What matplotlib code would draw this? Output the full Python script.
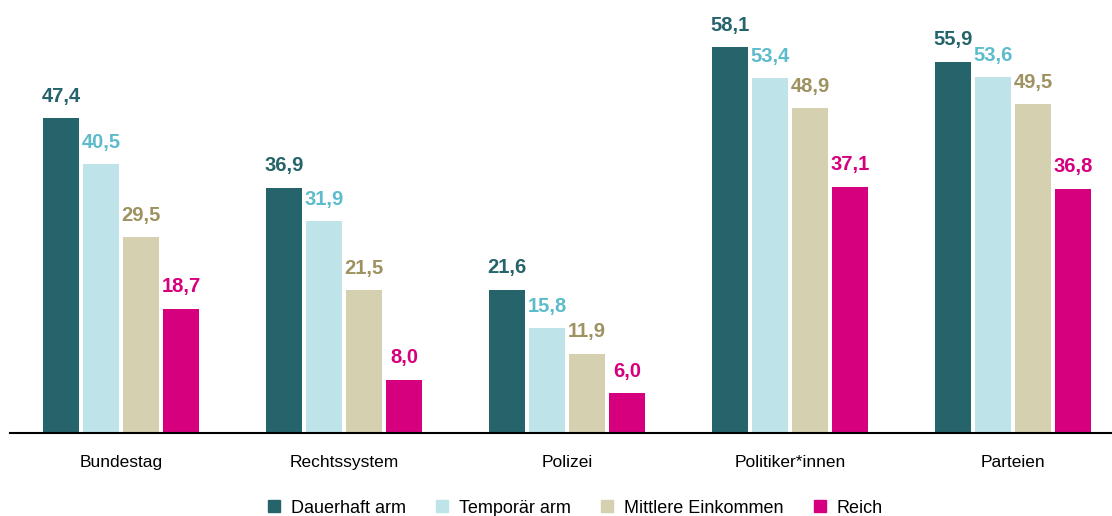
import numpy as np
import matplotlib.pyplot as plt
from matplotlib.lines import Line2D

categories = ['Bundestag', 'Rechtssystem', 'Polizei', 'Politiker*innen', 'Parteien']
series_names = ['Dauerhaft arm', 'Temporär arm', 'Mittlere Einkommen', 'Reich']
dauerhaft = [47.4, 36.9, 21.6, 58.1, 55.9]
temporaer = [40.5, 31.9, 15.8, 53.4, 53.6]
mittlere = [29.5, 21.5, 11.9, 48.9, 49.5]
reich = [18.7, 8.0, 6.0, 37.1, 36.8]

bar_colors = ['#26646C', '#BEE4EA', '#D5D0B0', '#D6007E']
label_colors = ['#26646C', '#5CBCCB', '#9E9260', '#D6007E']

narrow = ['Liberation Sans Narrow', 'Liberation Sans', 'DejaVu Sans']
regular = ['Liberation Sans', 'DejaVu Sans']

fig = plt.figure(figsize=(11.12, 5.16), dpi=100)
ax = fig.add_axes([10 / 1112, 83 / 516, 1102 / 1112, 433 / 516])

x = np.arange(len(categories))
width = 0.161
step = 0.179
offsets = (np.arange(4) - 1.5) * step

for i, vals in enumerate([dauerhaft, temporaer, mittlere, reich]):
    bars = ax.bar(x + offsets[i], vals, width, color=bar_colors[i], zorder=2)
    for b, v in zip(bars, vals):
        ax.annotate(f'{v:.1f}'.replace('.', ','),
                    (b.get_x() + b.get_width() / 2, v),
                    xytext=(0, 9), textcoords='offset points',
                    ha='center', va='bottom', fontsize=14.5, fontweight='bold',
                    color=label_colors[i], family=narrow)

ax.set_xlim(-0.498, 4.444)
ax.set_ylim(0, 433 / 6.64)
ax.set_xticks(x)
ax.set_xticklabels(categories, fontsize=12.5, family=regular)
ax.tick_params(axis='x', length=0, pad=16)
ax.set_yticks([])
for s in ['top', 'right', 'left']:
    ax.spines[s].set_visible(False)
ax.spines['bottom'].set_linewidth(1.5)
ax.spines['bottom'].set_color('black')

handles = [Line2D([], [], marker='s', linestyle='none', markersize=9,
                  markerfacecolor=c, markeredgecolor=c) for c in bar_colors]
fig.legend(handles, series_names, loc='center', bbox_to_anchor=(0.516, 0.0155),
           ncol=4, frameon=False, prop={'family': regular, 'size': 13},
           handletextpad=0.45, columnspacing=1.5, handlelength=1.0)

fig.savefig('out.png', dpi=100)
